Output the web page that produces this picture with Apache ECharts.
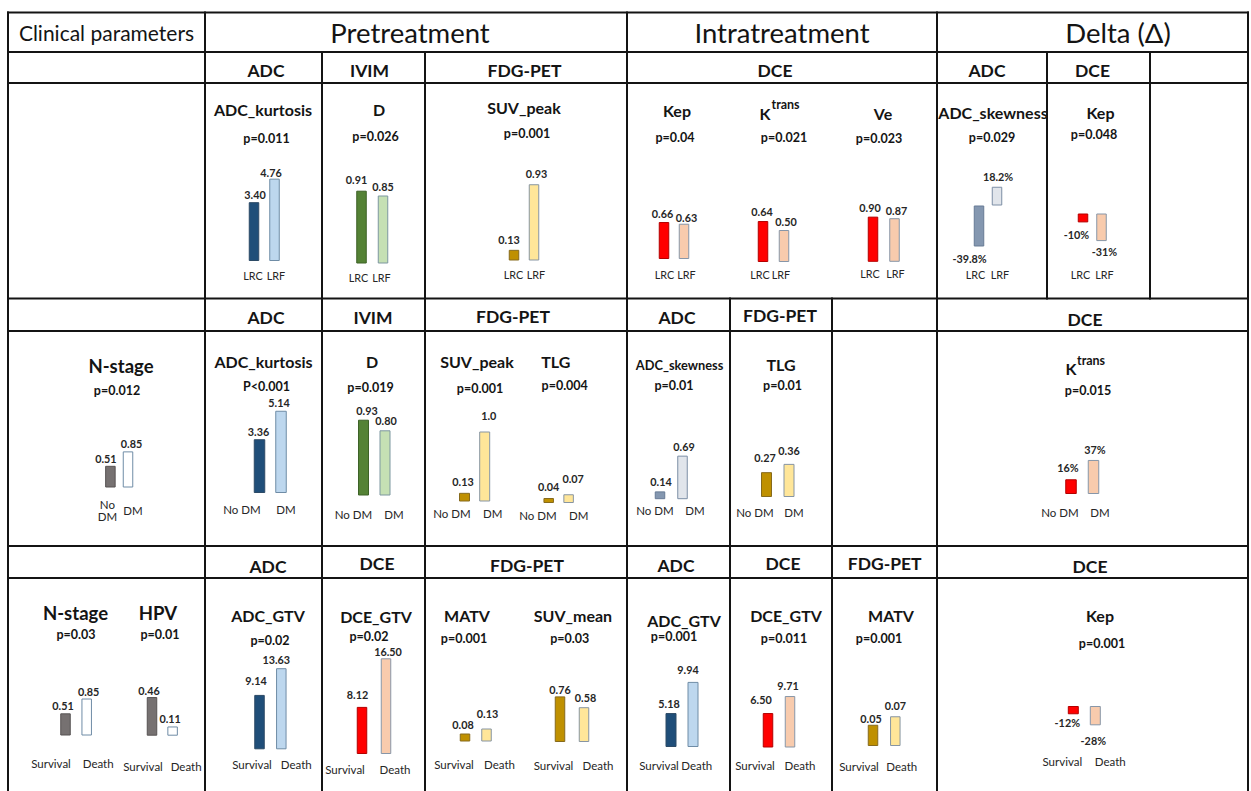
<!DOCTYPE html>
<html>
<head>
<meta charset="utf-8">
<title>Imaging parameters by outcome</title>
<script src="https://cdn.jsdelivr.net/npm/echarts@6/dist/echarts.min.js"></script>
<style>
  html, body { margin: 0; padding: 0; background: #ffffff; }
  #chart { width: 1251px; height: 791px; }
</style>
</head>
<body>
<div id="chart"></div>
<script>
// ---------- group labels ----------
const groupsLR = ['LRC', 'LRF'];
const groupsDM = ['No DM', 'DM'];
const groupsOS = ['Survival', 'Death'];

// ---------- table headers ----------
const firstColumnHeader = 'Clinical parameters';
const phases = ['Pretreatment', 'Intratreatment', 'Delta (Δ)'];
const modalitiesRow1 = ['ADC', 'IVIM', 'FDG-PET', 'DCE', 'ADC', 'DCE'];
const modalitiesRow2 = ['ADC', 'IVIM', 'FDG-PET', 'ADC', 'FDG-PET', 'DCE'];
const modalitiesRow3 = ['ADC', 'DCE', 'FDG-PET', 'ADC', 'DCE', 'FDG-PET', 'DCE'];

// ---------- row 1: local control (LRC vs LRF) ----------
const lrPreAdcKurtosis = [3.40, 4.76];
const lrPreIvimD = [0.91, 0.85];
const lrPreSuvPeak = [0.13, 0.93];
const lrIntraKep = [0.66, 0.63];
const lrIntraKtrans = [0.64, 0.50];
const lrIntraVe = [0.90, 0.87];
const lrDeltaAdcSkewness = [-39.8, 18.2];
const lrDeltaKep = [-10, -31];

// ---------- row 2: distant metastasis (No DM vs DM) ----------
const dmNStage = [0.51, 0.85];
const dmPreAdcKurtosis = [3.36, 5.14];
const dmPreIvimD = [0.93, 0.80];
const dmPreSuvPeak = [0.13, 1.0];
const dmPreTlg = [0.04, 0.07];
const dmIntraAdcSkewness = [0.14, 0.69];
const dmIntraTlg = [0.27, 0.36];
const dmDeltaKtrans = [16, 37];

// ---------- row 3: overall survival (Survival vs Death) ----------
const osNStage = [0.51, 0.85];
const osHpv = [0.46, 0.11];
const osPreAdcGtv = [9.14, 13.63];
const osPreDceGtv = [8.12, 16.50];
const osPreMatv = [0.08, 0.13];
const osPreSuvMean = [0.76, 0.58];
const osIntraAdcGtv = [5.18, 9.94];
const osIntraDceGtv = [6.50, 9.71];
const osIntraMatv = [0.05, 0.07];
const osDeltaKep = [-12, -28];

// ---------- styling ----------
const FONT = 'Lato, "Open Sans", "DejaVu Sans", sans-serif';
const INK = '#141414';
const LABEL_INK = '#262626';
const palettes = {
  adc:   { fill: ['#1f4e79', '#bdd7ee'], line: ['#2c4a66', '#6f8ca6'] },
  ivim:  { fill: ['#548235', '#c5e0b4'], line: ['#3d6227', '#7d97a0'] },
  pet:   { fill: ['#bf9000', '#ffe699'], line: ['#866a1c', '#8795a3'] },
  dce:   { fill: ['#ff0000', '#f8cbad'], line: ['#b30000', '#8796a8'] },
  adcd:  { fill: ['#8497b0', '#e1e5eb'], line: ['#677b95', '#7c8ea5'] },
  clin:  { fill: ['#767171', '#ffffff'], line: ['#575353', '#6f8ca6'] }
};

// One entry per small bar chart: text, data reference and where it sits in the table.
// x: bar centres, base: zero line, k: pixels per unit, catY: group label centre,
// catDx: group label shift, lab: value label [dx, gap from bar end]
const panels = [
  // row 1
  { name: 'ADC_kurtosis', p: 'p=0.011', groups: groupsLR, values: lrPreAdcKurtosis, digits: 2, pal: 'adc',
    t: [263, 109], pt: [266.5, 138], x: [254, 274.5], base: 261, k: 17.3, catY: 275, catDx: [-1, 1.5], lab: [[1, 8], [-3.5, 6]] },
  { name: 'D', p: 'p=0.026', groups: groupsLR, values: lrPreIvimD, digits: 2, pal: 'ivim',
    t: [379, 109], pt: [375.5, 136], x: [361.5, 383], base: 263.5, k: 80, catY: 277, catDx: [-3, -1.5], lab: [[-5, 11], [0, 9]] },
  { name: 'SUV_peak', p: 'p=0.001', groups: groupsLR, values: lrPreSuvPeak, digits: 2, pal: 'pet',
    t: [524, 107], pt: [527, 133], x: [514, 534], base: 260.5, k: 82, catY: 274, catDx: [-0.5, 2], lab: [[-5, 10], [2.5, 11]] },
  { name: 'Kep', p: 'p=0.04', groups: groupsLR, values: lrIntraKep, digits: 2, pal: 'dce',
    t: [677, 110], pt: [675, 137], x: [664, 684], base: 259, k: 56, catY: 274, catDx: [0.5, 2.5], lab: [[-1.5, 9], [2.5, 6]] },
  { name: 'K', sup: 'trans', p: 'p=0.021', groups: groupsLR, values: lrIntraKtrans, digits: 2, pal: 'dce',
    t: [765, 113], st: [771.5, 104], pt: [784, 137], x: [763, 784], base: 262, k: 64, catY: 274, catDx: [-3, -3], lab: [[-1, 10], [2, 9]] },
  { name: 'Ve', p: 'p=0.023', groups: groupsLR, values: lrIntraVe, digits: 2, pal: 'dce',
    t: [883, 113], pt: [879, 138], x: [873, 894.5], base: 263, k: 51.5, catY: 273.3, catDx: [-3, 1], lab: [[-3, 9], [2, 8]] },
  { name: 'ADC_skewness', p: 'p=0.029', groups: groupsLR, values: lrDeltaAdcSkewness, digits: 1, suffix: '%', pal: 'adcd',
    t: [993, 112], pt: [992, 137], x: [979, 997], base: 205.5, k: 1.03, catY: 274, catDx: [-3.5, 3], lab: [[-9.5, 12], [1, 10]] },
  { name: 'Kep', p: 'p=0.048', groups: groupsLR, values: lrDeltaKep, digits: 0, suffix: '%', pal: 'dce',
    t: [1100.5, 112], pt: [1094, 134], x: [1083, 1101.5], base: 213.5, k: 0.89, catY: 274, catDx: [-2.5, 3], lab: [[-6.5, 12.5], [3, 10]] },

  // row 2
  { name: 'N-stage', p: 'p=0.012', big: true, wrap: true, groups: groupsDM, values: dmNStage, digits: 2, pal: 'clin',
    t: [121, 366], pt: [117, 390.7], x: [110.4, 128], base: 487.5, k: 42.5, catY: 510.5, catDx: [-3, 5], lab: [[-4.5, 7], [3.5, 8]] },
  { name: 'ADC_kurtosis', p: 'P<0.001', groups: groupsDM, values: dmPreAdcKurtosis, digits: 2, pal: 'adc', bw: 11.5,
    t: [263.5, 361], pt: [266.6, 386.7], x: [259.5, 281], base: 493, k: 16, catY: 509, catDx: [-17.5, 5], lab: [[-1, 8], [-2, 8]] },
  { name: 'D', p: 'p=0.019', groups: groupsDM, values: dmPreIvimD, digits: 2, pal: 'ivim', bw: 11,
    t: [372, 361], pt: [370.5, 387.7], x: [363.5, 385], base: 495.5, k: 81.5, catY: 514, catDx: [-10, 9], lab: [[3.5, 9], [1, 10]] },
  { name: 'SUV_peak', p: 'p=0.001', groups: groupsDM, values: dmPreSuvPeak, digits: [2, 1], pal: 'pet', bw: 11,
    t: [477, 361], pt: [480, 388], x: [464.5, 484.7], base: 502, k: 70.5, catY: 513, catDx: [-12.5, 8], lab: [[-1.5, 11], [4, 16]] },
  { name: 'TLG', p: 'p=0.004', groups: groupsDM, values: dmPreTlg, digits: 2, pal: 'pet',
    t: [555.7, 361], pt: [564.7, 385.7], x: [548.7, 568.6], base: 503, k: 125, catY: 515, catDx: [-10.7, 10], lab: [[0, 12], [4.5, 16]] },
  { name: 'ADC_skewness', p: 'p=0.01', small: true, groups: groupsDM, values: dmIntraAdcSkewness, digits: 2, pal: 'adcd',
    t: [679.6, 365], pt: [674, 385.7], x: [660, 682.5], base: 500.5, k: 65, catY: 510.7, catDx: [-5, 12.5], lab: [[1, 10], [1.5, 9]] },
  { name: 'TLG', p: 'p=0.01', groups: groupsDM, values: dmIntraTlg, digits: 2, pal: 'pet', bw: 11,
    t: [781, 364.3], pt: [782.6, 385], x: [766.5, 789], base: 497, k: 92, catY: 512, catDx: [-11.5, 5], lab: [[-1.5, 15], [0, 13]] },
  { name: 'K', sup: 'trans', p: 'p=0.015', groups: groupsDM, values: dmDeltaKtrans, digits: 0, suffix: '%', pal: 'dce', bw: 11.5,
    t: [1071, 368], st: [1077, 360], pt: [1088, 390.7], x: [1071, 1093.5], base: 494, k: 0.92, catY: 512, catDx: [-11, 6.5], lab: [[-3, 12], [1.5, 10]] },

  // row 3
  { name: 'N-stage', p: 'p=0.03', big: true, groups: groupsOS, values: osNStage, digits: 2, pal: 'clin',
    t: [75.5, 613.3], pt: [76, 634.3], x: [65.5, 86.7], base: 735.5, k: 43.5, catY: 763.3, catDx: [-14.5, 11.5], lab: [[-2.5, 8], [2, 7]] },
  { name: 'HPV', p: 'p=0.01', big: true, groups: groupsOS, values: osHpv, digits: 2, pal: 'clin',
    t: [158, 613.3], pt: [160, 634.3], x: [152, 172.6], base: 735.7, k: 84, catY: 766, catDx: [-9, 13.5], lab: [[-3, 7], [-2.5, 8]] },
  { name: 'ADC_GTV', p: 'p=0.02', groups: groupsOS, values: osPreAdcGtv, digits: 2, pal: 'adc',
    t: [268, 615.7], pt: [270, 640], x: [259.5, 281.3], base: 749.3, k: 5.95, catY: 764, catDx: [-7.5, 15], lab: [[-3.5, 14], [-5, 9]] },
  { name: 'DCE_GTV', p: 'p=0.02', groups: groupsOS, values: osPreDceGtv, digits: 2, pal: 'dce',
    t: [376, 616.7], pt: [369, 636.7], x: [362, 386], base: 754, k: 5.8, catY: 769, catDx: [-17, 9], lab: [[-4.5, 12], [2, 7]] },
  { name: 'MATV', p: 'p=0.001', groups: groupsOS, values: osPreMatv, digits: 2, pal: 'pet',
    t: [467, 615], pt: [464, 638], x: [465, 486.5], base: 741.5, k: 100, catY: 764, catDx: [-11, 13], lab: [[-2, 9], [1, 15]] },
  { name: 'SUV_mean', p: 'p=0.03', groups: groupsOS, values: osPreSuvMean, digits: 2, pal: 'pet',
    t: [573, 615], pt: [569.7, 638], x: [560, 584], base: 742, k: 60, catY: 765, catDx: [-6.5, 14], lab: [[0, 7], [1.5, 10]] },
  { name: 'ADC_GTV', p: 'p=0.001', groups: groupsOS, values: osIntraAdcGtv, digits: 2, pal: 'adc', bw: 11,
    t: [684, 620], pt: [674, 636.7], x: [671, 693], base: 747, k: 6.55, catY: 765, catDx: [-12, 3.7], lab: [[-2, 10], [-5, 12]] },
  { name: 'DCE_GTV', p: 'p=0.011', groups: groupsOS, values: osIntraDceGtv, digits: 2, pal: 'dce',
    t: [786, 615], pt: [784, 638], x: [768, 790], base: 747.5, k: 5.3, catY: 765, catDx: [-13, 10], lab: [[-7, 14], [-2, 11]] },
  { name: 'MATV', p: 'p=0.001', groups: groupsOS, values: osIntraMatv, digits: 2, pal: 'pet',
    t: [891, 615], pt: [879, 638], x: [873, 895.3], base: 746, k: 425, catY: 766.5, catDx: [-14, 6.5], lab: [[-2, 6], [0, 10.5]] },
  { name: 'Kep', p: 'p=0.001', groups: groupsOS, values: osDeltaKep, digits: 0, suffix: '%', pal: 'dce', bw: 11,
    t: [1100, 615], pt: [1102, 643.3], x: [1073.3, 1095.3], base: 706, k: 0.69, catY: 761.7, catDx: [-11, 15], lab: [[-6, 8], [-2, 15]] }
];

// ---------- table frame ----------
const rowBands = [
  { y0: 12.5, y1: 52,  xs: [8, 205, 627, 937, 1248] },
  { y0: 52,   y1: 298.5, xs: [8, 205, 322, 425, 627, 937, 1047, 1150, 1248] },
  { y0: 298.5, y1: 546, xs: [8, 205, 322, 425, 627, 730, 832, 937, 1248] },
  { y0: 546,  y1: 791, xs: [8, 205, 322, 425, 627, 730, 832, 937, 1248] }
];
const ruleYs = [12.5, 52, 83, 298.5, 331, 546, 578];

const graphics = [];
const LINE = '#141414';
ruleYs.forEach(y => graphics.push({ type: 'line', shape: { x1: 7, y1: y, x2: 1249, y2: y }, style: { stroke: LINE, lineWidth: 2 }, silent: true }));
rowBands.forEach(b => b.xs.forEach(x => graphics.push({ type: 'line', shape: { x1: x, y1: b.y0 - 1, x2: x, y2: b.y1 + 1 }, style: { stroke: LINE, lineWidth: 2 }, silent: true })));

function addText(text, x, y, font, align) {
  graphics.push({
    type: 'text', silent: true,
    style: { text, x, y, font, fill: INK, textAlign: align || 'center', align: align || 'center', textVerticalAlign: 'middle', verticalAlign: 'middle' }
  });
}

// header row
addText(firstColumnHeader, 106.5, 32.5, `21px ${FONT}`);
const phaseX = [410, 782, 1118];
phases.forEach((t, i) => addText(t, phaseX[i], 32.5, `27.5px ${FONT}`));

// modality sub-headers
const SUB = `bold 17.5px ${FONT}`;
const subRow1 = [[266, 70], [369.5, 70], [524.5, 70], [775, 70], [987, 70], [1092.5, 70]];
const subRow2 = [[266, 317], [373, 317], [513, 316.7], [677, 317.3], [780, 315.7], [1085, 319.3]];
const subRow3 = [[268, 566], [377, 563.3], [527, 565], [676, 565], [783, 563], [884.7, 563], [1090, 566.7]];
modalitiesRow1.forEach((t, i) => addText(t, subRow1[i][0], subRow1[i][1], SUB));
modalitiesRow2.forEach((t, i) => addText(t, subRow2[i][0], subRow2[i][1], SUB));
modalitiesRow3.forEach((t, i) => addText(t, subRow3[i][0], subRow3[i][1], SUB));

// ---------- small bar charts ----------
const grid = [], xAxis = [], yAxis = [], series = [];

function fmt(v, digits, suffix) {
  return v.toFixed(digits) + (suffix || '');
}
function shiftPad(dx) {
  return dx < 0 ? [0, -2 * dx, 0, 0] : [0, 0, 0, 2 * dx];
}

panels.forEach((pn, i) => {
  // parameter name and p-value
  const nameFont = pn.big ? `bold 18.5px ${FONT}` : pn.small ? `bold 12.8px ${FONT}` : `bold 16px ${FONT}`;
  addText(pn.name, pn.t[0], pn.t[1], nameFont);
  if (pn.sup) addText(pn.sup, pn.st[0], pn.st[1], `bold 12.5px ${FONT}`, 'left');
  addText(pn.p, pn.pt[0], pn.pt[1], `bold 12.5px ${FONT}`);

  const d = pn.x[1] - pn.x[0];
  const top = pn.base - 130;
  const bottom = pn.catY - 12;
  const pal = palettes[pn.pal];
  const catSize = pn.groups === groupsLR ? 10.8 : 11.5;

  grid.push({ left: pn.x[0] - d / 2, top, width: 2 * d, height: bottom - top, containLabel: false, outerBoundsMode: 'none' });
  xAxis.push({
    gridIndex: i, type: 'category', data: pn.groups,
    axisLine: { show: false }, axisTick: { show: false }, splitLine: { show: false },
    axisLabel: {
      interval: 0, margin: 12, verticalAlign: 'middle', hideOverlap: false,
      formatter: (v, j) => `{c${j}|${pn.wrap ? v.replace(' ', '\n') : v}}`,
      rich: {
        c0: { fontFamily: FONT, fontSize: catSize, color: LABEL_INK, lineHeight: 11.5, padding: shiftPad(pn.catDx[0]) },
        c1: { fontFamily: FONT, fontSize: catSize, color: LABEL_INK, lineHeight: 11.5, padding: shiftPad(pn.catDx[1]) }
      }
    }
  });
  yAxis.push({
    gridIndex: i, type: 'value', show: false,
    min: -(bottom - pn.base) / pn.k, max: (pn.base - top) / pn.k,
    splitLine: { show: false }
  });
  series.push({
    type: 'bar', xAxisIndex: i, yAxisIndex: i, barWidth: pn.bw || 10.5,
    silent: true, animation: false,
    data: pn.values.map((v, j) => {
      const dg = Array.isArray(pn.digits) ? pn.digits[j] : pn.digits;
      const neg = v < 0;
      return {
        value: v,
        itemStyle: { color: pal.fill[j], borderColor: pal.line[j], borderWidth: 1 },
        label: {
          show: true, position: neg ? 'bottom' : 'top', distance: 0,
          align: 'center', verticalAlign: 'middle',
          offset: [pn.lab[j][0], neg ? pn.lab[j][1] : -pn.lab[j][1]],
          formatter: fmt(v, dg, pn.suffix),
          fontFamily: FONT, fontSize: 10.8, fontWeight: 'bold', color: LABEL_INK
        }
      };
    })
  });
});

const chart = echarts.init(document.getElementById('chart'), null, { renderer: 'svg', width: 1251, height: 791 });
chart.setOption({
  animation: false,
  backgroundColor: '#ffffff',
  grid, xAxis, yAxis, series,
  graphic: { elements: graphics }
});
</script>
</body>
</html>
